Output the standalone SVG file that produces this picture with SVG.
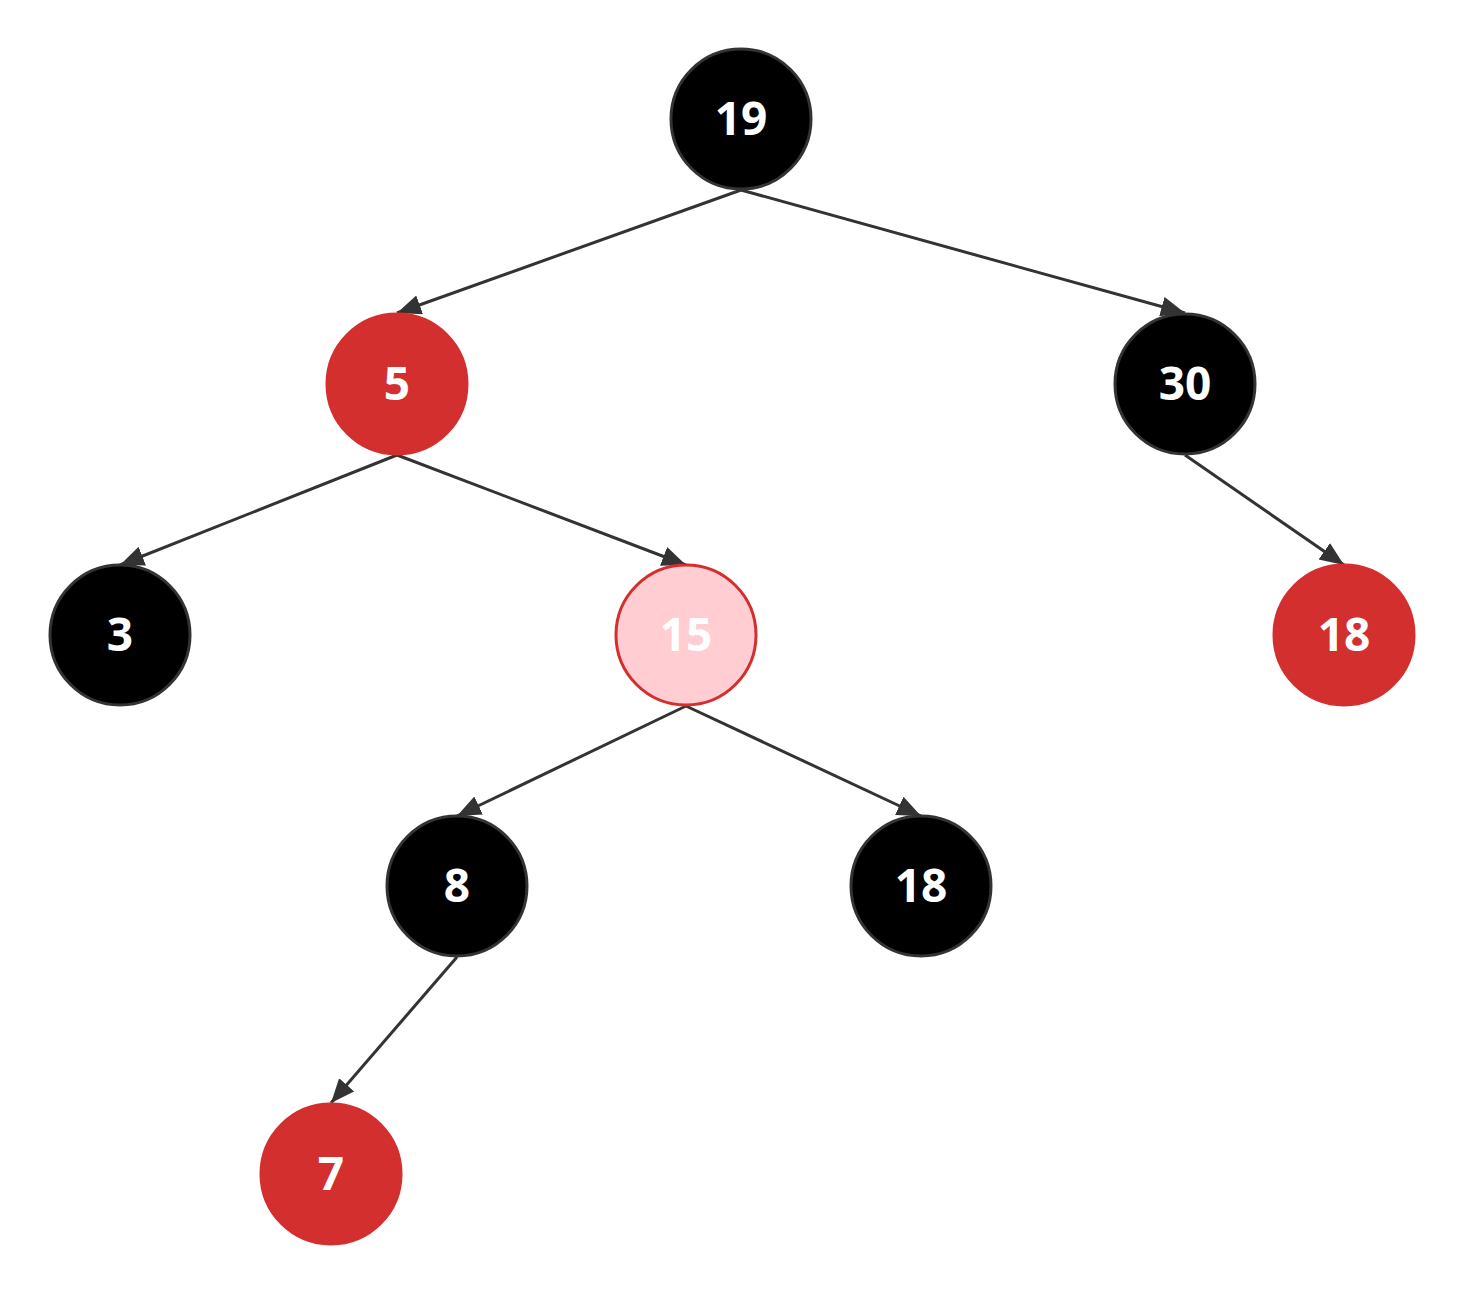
<svg xmlns="http://www.w3.org/2000/svg" width="1464" height="1294" viewBox="0 0 1464 1294">
<style>
.edge{stroke:#333;stroke-width:3;fill:none;marker-end:url(#arr)}
.blk{fill:#000;stroke:#333;stroke-width:3}
.red{fill:#d32f2f;stroke:#d32f2f;stroke-width:3}
.pink{fill:#ffcdd2;stroke:#d32f2f;stroke-width:3}
text{font-family:"Open Sans","Noto Sans","DejaVu Sans",sans-serif;font-weight:bold;font-size:46px;fill:#fff;text-anchor:middle}
</style>
<defs>
<marker id="arr" markerUnits="userSpaceOnUse" markerWidth="28" markerHeight="22" refX="24" refY="10" orient="auto">
<path d="M0,0 L24,10 L0,20 Z" fill="#333"/>
</marker>
</defs>
<rect width="1464" height="1294" fill="#fff"/>
<g id="connectors">
<line class="edge" x1="741" y1="190" x2="397" y2="313"/>
<line class="edge" x1="741" y1="190" x2="1185" y2="313"/>
<line class="edge" x1="397" y1="455" x2="120" y2="565"/>
<line class="edge" x1="397" y1="455" x2="686" y2="565"/>
<line class="edge" x1="1185" y1="455" x2="1344" y2="565"/>
<line class="edge" x1="686" y1="706" x2="457" y2="816"/>
<line class="edge" x1="686" y1="706" x2="921" y2="816"/>
<line class="edge" x1="457" y1="957" x2="331" y2="1103"/>
</g>
<g id="n19"><circle class="blk" cx="741" cy="119" r="70"/><text x="741" y="135">19</text></g>
<g id="n5"><circle class="red" cx="397" cy="384" r="70"/><text x="397" y="400">5</text></g>
<g id="n30"><circle class="blk" cx="1185" cy="384" r="70"/><text x="1185" y="400">30</text></g>
<g id="n3"><circle class="blk" cx="120" cy="635" r="70"/><text x="120" y="651">3</text></g>
<g id="n15"><circle class="pink" cx="686" cy="635" r="70"/><text x="686" y="651">15</text></g>
<g id="n18a"><circle class="red" cx="1344" cy="635" r="70"/><text x="1344" y="651">18</text></g>
<g id="n8"><circle class="blk" cx="457" cy="886" r="70"/><text x="457" y="902">8</text></g>
<g id="n18b"><circle class="blk" cx="921" cy="886" r="70"/><text x="921" y="902">18</text></g>
<g id="n7"><circle class="red" cx="331" cy="1174" r="70"/><text x="331" y="1190">7</text></g>
</svg>
